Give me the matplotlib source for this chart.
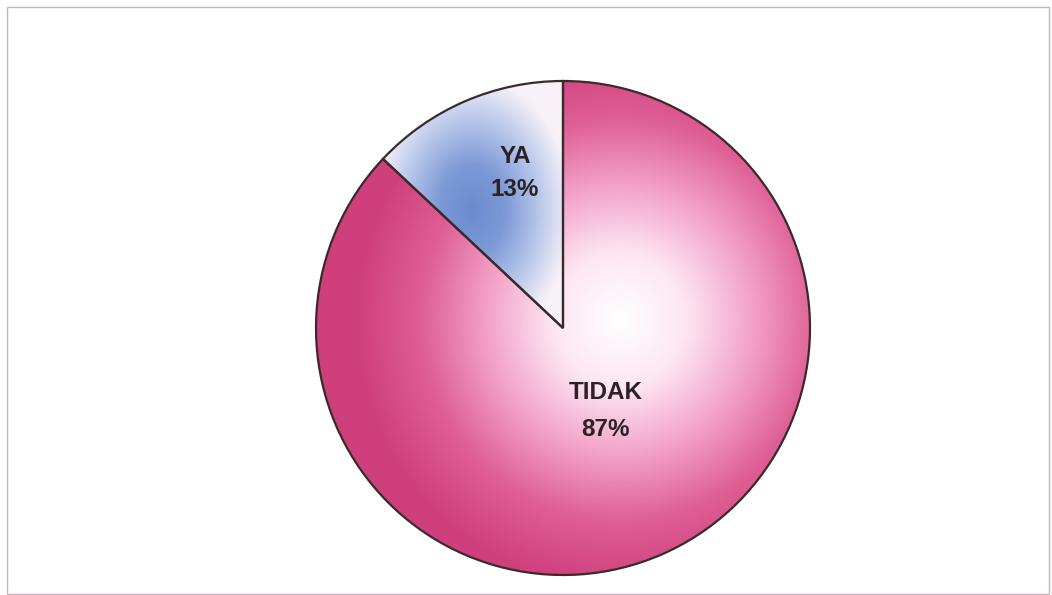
import numpy as np
import matplotlib.pyplot as plt
from matplotlib.colors import LinearSegmentedColormap
from matplotlib.patches import Rectangle

# slice data
labels = ['YA', 'TIDAK']
values = [13, 87]

W, H = 1052, 595
fig = plt.figure(figsize=(W / 100, H / 100), dpi=100)
ax = fig.add_axes([0, 0, 1, 1])

cx, cy, r = 563, H - 328, 247

wedges, _ = ax.pie(values, center=(cx, cy), radius=r, startangle=90,
                   counterclock=True, frame=True,
                   wedgeprops=dict(facecolor='none', edgecolor='#3a2a2c', linewidth=1.6))
ax.set_xlim(0, W)
ax.set_ylim(0, H)
ax.set_aspect('equal')
ax.axis('off')

# gradient fills: blue centre fading to white, white centre fading to pink
cmap_ya = LinearSegmentedColormap.from_list('ya', ['#6b8bd0', '#7d99d6', '#b6c6ea', '#f8f2f8'])
cmap_tidak = LinearSegmentedColormap.from_list('tidak', ['#ffffff', '#fde6f2', '#f3a2c8', '#de5f95', '#cf3f7b'])

xs = np.linspace(0, W, 600)
ys = np.linspace(0, H, 340)
X, Y = np.meshgrid(xs, ys)

# YA: radial gradient around its bounding-box centre
gx, gy = 472, H - 210
d = np.sqrt(((X - gx) / 100) ** 2 + ((Y - gy) / 135) ** 2)
im = ax.imshow(np.clip(d, 0, 1), extent=(0, W, 0, H), origin='lower',
               cmap=cmap_ya, vmin=0, vmax=1, zorder=0)
im.set_clip_path(wedges[0])

# TIDAK
gx, gy = 620, H - 320
d = np.sqrt(((X - gx) / 265) ** 2 + ((Y - gy) / 270) ** 2)
im = ax.imshow(np.clip(d, 0, 1), extent=(0, W, 0, H), origin='lower',
               cmap=cmap_tidak, vmin=0, vmax=1, zorder=0)
im.set_clip_path(wedges[1])

for w in wedges:
    w.set_zorder(2)

# labels
ax.text(515, H - 173, 'YA\n13%', ha='center', va='center', fontsize=17.5,
        fontweight='bold', family='Liberation Sans', color='#2a2224',
        linespacing=1.6, zorder=3)
ax.text(606, H - 411, 'TIDAK\n87%', ha='center', va='center', fontsize=17.5,
        fontweight='bold', family='Liberation Sans', color='#2a2224',
        linespacing=1.75, zorder=3)

# outer frame
ax.add_patch(Rectangle((7, 1.5), 1042, H - 8.5, fill=False, edgecolor='#c4b6bc',
                       linewidth=1.0, zorder=1))

fig.savefig('out.png', dpi=100)
